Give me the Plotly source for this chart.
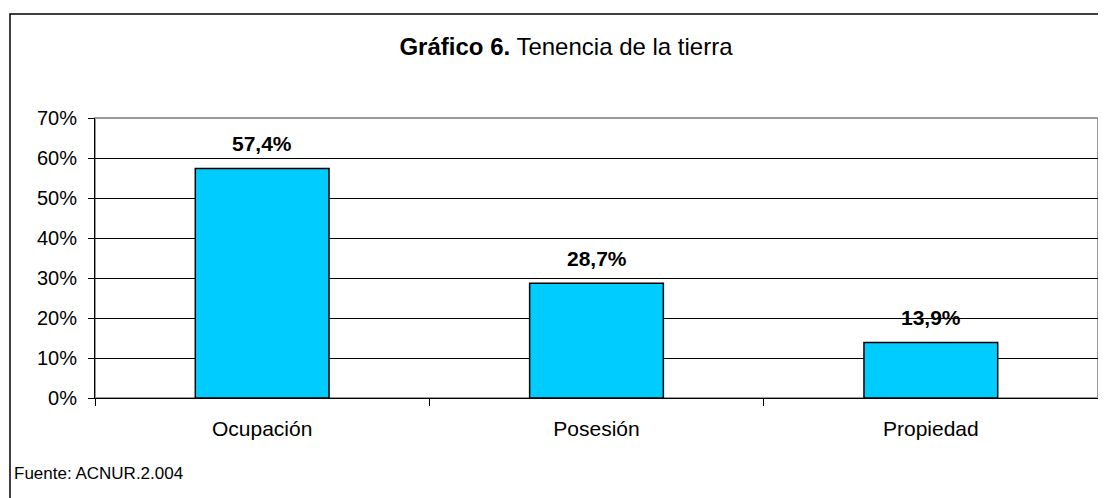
import plotly.graph_objects as go

categorias = ['Ocupación', 'Posesión', 'Propiedad']
porcentajes = [57.4, 28.7, 13.9]
y_ticks = [0, 10, 20, 30, 40, 50, 60, 70]
y_tick_labels = [f'{v}%' for v in y_ticks]

FONT = 'Liberation Sans, Arial, sans-serif'
BAR_COLOR = '#00CCFF'

# la pagina html deja 8px de margen en el body
W, H = 1098, 490
L, R, T, B = 87, 8, 110, 100
PW, PH = W - L - R, H - T - B

fig = go.Figure()

fig.add_trace(go.Bar(
    x=categorias,
    y=porcentajes,
    width=0.4,
    marker=dict(color=BAR_COLOR, line=dict(color='black', width=1.5)),
    hoverinfo='skip',
))

# etiquetas de valor sobre las barras
for cat, val in zip(categorias, porcentajes):
    fig.add_annotation(
        x=cat, y=val, xref='x', yref='y',
        text='<b>' + f'{val:.1f}%'.replace('.', ',') + '</b>',
        showarrow=False, yshift=25, yanchor='middle',
        font=dict(family=FONT, size=21, color='black'),
    )

# marco gris del area de trazado
fig.add_shape(type='rect', xref='paper', yref='paper', x0=0, x1=1, y0=0, y1=1,
              line=dict(color='#9a9a9a', width=2), layer='below')

# borde exterior del grafico
fig.add_shape(type='rect', xref='paper', yref='paper',
              x0=(2 - L) / PW, x1=1.05, y0=-1.0, y1=1 + (T - 6) / PH,
              line=dict(color='black', width=1.5))

fig.add_annotation(
    text='Fuente: ACNUR.2.004', xref='paper', yref='paper',
    x=(4 - L) / PW, y=-75 / PH, xanchor='left', yanchor='middle',
    showarrow=False, font=dict(family=FONT, size=17, color='black'),
)

fig.update_layout(
    title=dict(
        text='<b>Gráfico 6.</b> Tenencia de la tierra',
        x=558 / W, xanchor='center', y=1 - 39 / H, yanchor='middle',
        font=dict(family=FONT, size=24, color='black'),
    ),
    width=W, height=H,
    margin=dict(l=L, r=R, t=T, b=B),
    paper_bgcolor='white',
    plot_bgcolor='white',
    showlegend=False,
    font=dict(family=FONT, size=20, color='black'),
)

fig.update_xaxes(
    showline=True, linecolor='black', linewidth=1,
    ticks='outside', tickson='boundaries', ticklen=7, tickcolor='black',
    ticklabelstandoff=12,
    tickfont=dict(family=FONT, size=21, color='black'),
    showgrid=False,
)

fig.update_yaxes(
    range=[0, 70],
    tickvals=y_ticks, ticktext=y_tick_labels,
    showline=True, linecolor='black', linewidth=1,
    ticks='outside', ticklen=6, tickcolor='black',
    ticklabelstandoff=7,
    tickfont=dict(family=FONT, size=20, color='black'),
    showgrid=True, gridcolor='black', gridwidth=1,
    zeroline=False,
)

fig.write_html('out.html')
